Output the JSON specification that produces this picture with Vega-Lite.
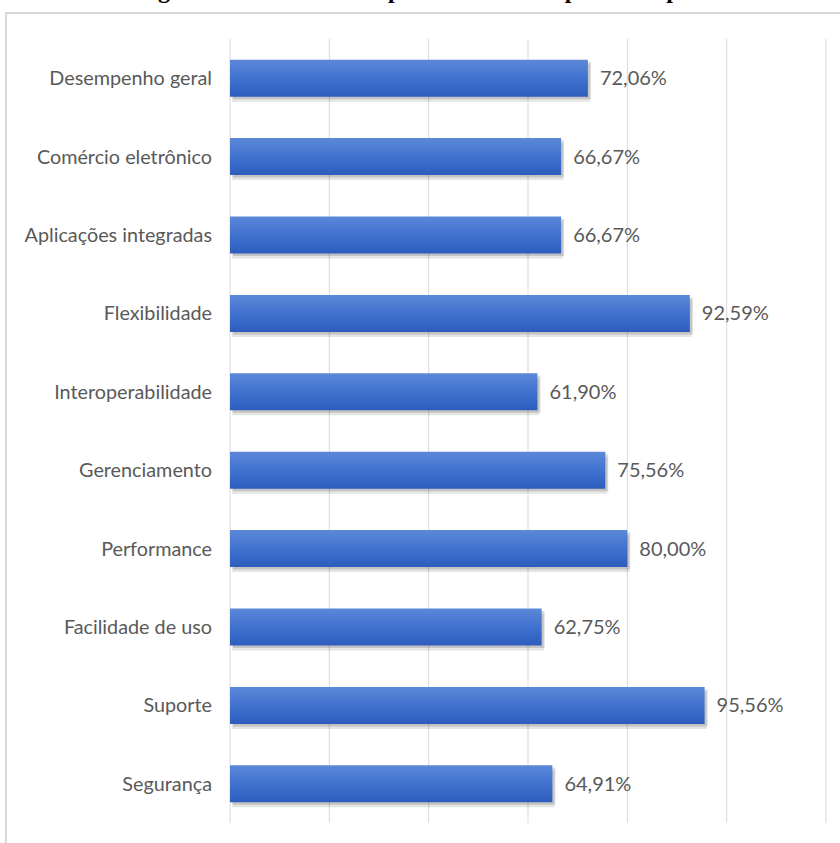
{
  "$schema": "https://vega.github.io/schema/vega-lite/v6.json",
  "autosize": "none",
  "padding": {"left": 6, "top": 13, "right": 0, "bottom": 0},
  "width": 845,
  "height": 850,
  "background": "white",
  "title": {
    "text": "Figura 6 – Resultado do percentual dos aspectos do produto",
    "font": "Liberation Serif",
    "fontWeight": "bold",
    "fontSize": 24,
    "color": "#000000",
    "anchor": "middle",
    "baseline": "alphabetic",
    "offset": 4,
    "dy": 13,
    "dx": 14
  },
  "config": {
    "view": {"stroke": "#D9D9D9", "strokeWidth": 2},
    "locale": {"number": {"decimal": ",", "thousands": ".", "grouping": [3], "currency": ["R$", ""]}}
  },
  "datasets": {
    "grid": [{"v": 0}, {"v": 0.2}, {"v": 0.4}, {"v": 0.6}, {"v": 0.8}, {"v": 1.0}, {"v": 1.2}],
    "bars": [
      {"cat": "Desempenho geral", "val": 0.7206},
      {"cat": "Comércio eletrônico", "val": 0.6667},
      {"cat": "Aplicações integradas", "val": 0.6667},
      {"cat": "Flexibilidade", "val": 0.9259},
      {"cat": "Interoperabilidade", "val": 0.6190},
      {"cat": "Gerenciamento", "val": 0.7556},
      {"cat": "Performance", "val": 0.8000},
      {"cat": "Facilidade de uso", "val": 0.6275},
      {"cat": "Suporte", "val": 0.9556},
      {"cat": "Segurança", "val": 0.6491}
    ]
  },
  "resolve": {"scale": {"y": "independent"}},
  "layer": [
    {
      "data": {"name": "grid"},
      "mark": {"type": "rule", "color": "#D9D9D9", "strokeWidth": 1},
      "encoding": {
        "x": {"field": "v", "type": "quantitative", "axis": null, "scale": {"domain": [0, 1.2], "range": [224, 820]}},
        "y": {"datum": 0, "type": "quantitative", "axis": null, "scale": {"domain": [0, 1], "range": [26, 810]}},
        "y2": {"datum": 1}
      }
    },
    {
      "data": {"name": "bars"},
      "encoding": {
        "y": {"field": "cat", "type": "nominal", "sort": null, "axis": null,
              "scale": {"range": [26, 810], "paddingInner": 0.528, "paddingOuter": 0.264}},
        "x": {"field": "val", "type": "quantitative", "axis": null, "scale": {"domain": [0, 1.2], "range": [224, 820]}}
      },
      "layer": [
        {"mark": {"type": "bar", "color": "#000000", "opacity": 0.1, "xOffset": 2, "yOffset": 5}},
        {"mark": {"type": "bar", "color": "#000000", "opacity": 0.14, "xOffset": 3, "yOffset": 2.5}},
        {"mark": {"type": "bar", "color": {"gradient": "linear", "x1": 0, "y1": 0, "x2": 0, "y2": 1,
            "stops": [{"offset": 0, "color": "#5C88D8"}, {"offset": 0.5, "color": "#4172CF"}, {"offset": 1, "color": "#2D5CBD"}]}}},
        {"mark": {"type": "text", "align": "left", "baseline": "middle", "dx": 12, "dy": 1, "font": "Lato", "fontSize": 20, "color": "#595959"},
         "encoding": {"text": {"field": "val", "type": "quantitative", "format": ".2%"}}},
        {"mark": {"type": "text", "align": "right", "baseline": "middle", "dx": -18, "dy": 1, "font": "Lato", "fontSize": 19.8, "color": "#595959"},
         "encoding": {"x": {"datum": 0}, "text": {"field": "cat", "type": "nominal"}}}
      ]
    }
  ]
}
